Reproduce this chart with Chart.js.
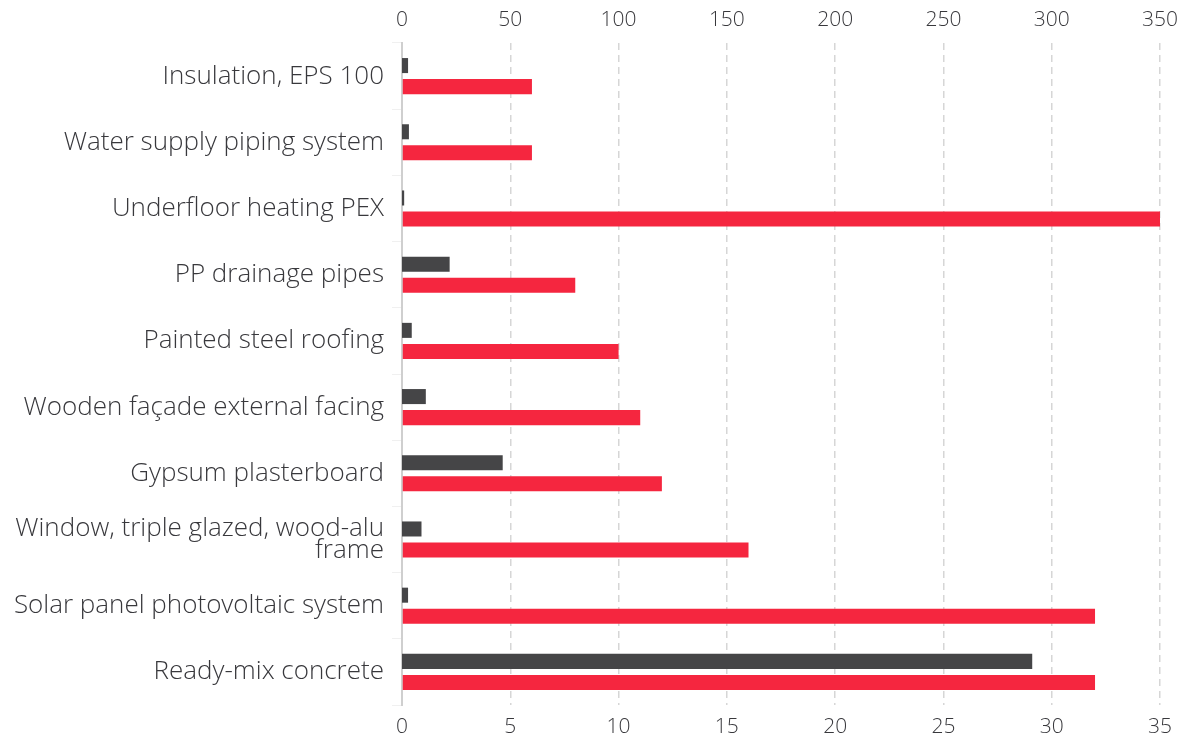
<!DOCTYPE html>
<html>
<head>
<meta charset="utf-8">
<script src="https://cdn.jsdelivr.net/npm/chart.js@4"></script>
<style>
  html, body { margin: 0; padding: 0; background: #fff; }
  #wrap { width: 1185px; height: 738px; }
</style>
</head>
<body>
<div id="wrap"><canvas id="chart"></canvas></div>
<script>
// --------------------
// Data
// --------------------
const categories = [
  "Insulation, EPS 100",
  "Water supply piping system",
  "Underfloor heating PEX",
  "PP drainage pipes",
  "Painted steel roofing",
  "Wooden façade external facing",
  "Gypsum plasterboard",
  ["Window, triple glazed, wood-alu", "frame"],
  "Solar panel photovoltaic system",
  "Ready-mix concrete"
];

// dark bars, read on the top axis (0-350)
const darkValues = [2.8, 3.2, 1, 22, 4.5, 11, 46.5, 9, 2.8, 291];
// red bars, read on the bottom axis (0-35)
const redValues = [6, 6, 35, 8, 10, 11, 12, 16, 32, 32];

const topTicks = [0, 50, 100, 150, 200, 250, 300, 350];
const bottomTicks = [0, 5, 10, 15, 20, 25, 30, 35];

const FONT = "Open Sans";
const TEXT = "#38383c";

// keep the plot area at x 402..1160
function fixSides(axis, height) {
  axis.height = height;
  axis.paddingLeft = 0;
  axis.paddingRight = 25;
}

// --------------------
// Chart setup
// --------------------
new Chart(document.getElementById("chart"), {
  type: "bar",
  data: {
    labels: categories,
    datasets: [
      { label: "dark", data: darkValues, xAxisID: "xTop", backgroundColor: "#454547",
        barPercentage: 0.714, categoryPercentage: 0.636 },
      { label: "red", data: redValues, xAxisID: "x", backgroundColor: "#f5263f",
        barPercentage: 0.714, categoryPercentage: 0.636 }
    ]
  },
  options: {
    indexAxis: "y",
    responsive: true,
    maintainAspectRatio: false,
    animation: false,
    layout: { padding: 0 },
    plugins: { legend: { display: false }, tooltip: { enabled: false } },
    scales: {
      x: {
        position: "bottom",
        min: 0, max: 35,
        afterBuildTicks: axis => { axis.ticks = bottomTicks.map(v => ({ value: v })); },
        afterFit: axis => fixSides(axis, 33),
        border: { display: false, dash: [7, 5] },
        grid: {
          drawTicks: false,
          lineWidth: 1.5,
          color: ctx => (ctx.tick && ctx.tick.value === 0) ? "rgba(0,0,0,0)" : "#d6d6d6"
        },
        ticks: { padding: 9, color: TEXT, font: { family: FONT, size: 21, weight: 300 } }
      },
      xTop: {
        position: "top",
        min: 0, max: 350,
        afterBuildTicks: axis => { axis.ticks = topTicks.map(v => ({ value: v })); },
        afterFit: axis => fixSides(axis, 43),
        border: { display: false },
        grid: { display: false, drawTicks: false, tickLength: 0 },
        ticks: { padding: 10, color: TEXT, font: { family: FONT, size: 21, weight: 300 } }
      },
      y: {
        afterFit: axis => { axis.width = 402; },
        border: { color: "#cfcfcf", width: 2 },
        grid: { drawOnChartArea: false, color: "#f0f0f0", tickLength: 10 },
        ticks: { padding: 8, color: TEXT, font: { family: FONT, size: 26, weight: 300, lineHeight: 0.86 } }
      }
    }
  }
});
</script>
</body>
</html>
